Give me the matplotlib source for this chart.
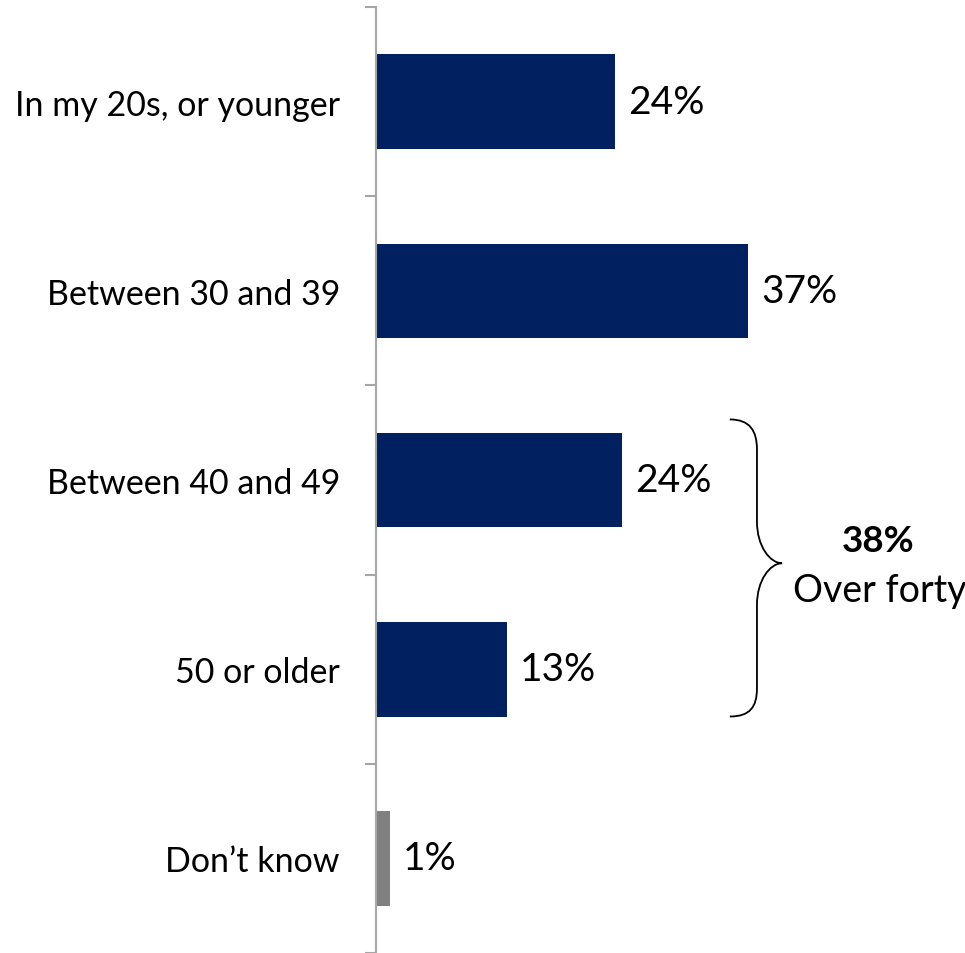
import matplotlib
matplotlib.use("Agg")
import matplotlib.pyplot as plt
from matplotlib.path import Path
from matplotlib.patches import PathPatch

plt.rcParams['font.family'] = ['Lato', 'DejaVu Sans']

categories = ["In my 20s, or younger", "Between 30 and 39", "Between 40 and 49",
              "50 or older", "Don\u2019t know"]
values = [23.8, 37.0, 24.5, 13.0, 1.4]
value_labels = ["24%", "37%", "24%", "13%", "1%"]
bar_colors = ["#002060", "#002060", "#002060", "#002060", "#808080"]
group_total = "38%"
group_label = "Over forty"

W, H = 965, 954
fig = plt.figure(figsize=(W / 100, H / 100), dpi=100)
ax_left, ax_right = 376 / W, 959 / W
ax_top, ax_bottom = 1 - 8 / H, 0.0
ax = fig.add_axes([ax_left, ax_bottom, ax_right - ax_left, ax_top - ax_bottom])

y = list(range(len(categories)))
ax.barh(y, values, height=0.5, color=bar_colors, zorder=2)
ax.set_xlim(0, 58)
ax.set_ylim(len(categories) - 0.5, -0.5)

for s in ['top', 'right', 'bottom']:
    ax.spines[s].set_visible(False)
ax.spines['left'].set_color('#A6A6A6')
ax.spines['left'].set_linewidth(1.5)
ax.set_xticks([])

# ticks at category boundaries
ax.set_yticks([i - 0.5 for i in range(len(categories) + 1)], minor=False)
ax.set_yticklabels([])
ax.tick_params(axis='y', which='major', length=8, width=1.5, color='#A6A6A6', direction='out')
ax.set_yticks(y, minor=True)
ax.set_yticklabels(categories, minor=True)
ax.tick_params(axis='y', which='minor', length=0, pad=26, labelsize=24.5, labelcolor='black')

for yi, v, lab in zip(y, values, value_labels):
    ax.text(v + 1.3, yi, lab, va='center', ha='left', fontsize=28, color='black')

# brace
verts = [(35.2, 1.68), (37.2, 1.68), (37.9, 1.74), (37.9, 1.84),
         (37.9, 2.22),
         (37.9, 2.35), (39.2, 2.44), (40.4, 2.44),
         (39.2, 2.44), (37.9, 2.53), (37.9, 2.66),
         (37.9, 3.10),
         (37.9, 3.20), (37.2, 3.25), (35.2, 3.25)]
codes = [Path.MOVETO, Path.CURVE4, Path.CURVE4, Path.CURVE4,
         Path.LINETO,
         Path.CURVE4, Path.CURVE4, Path.CURVE4,
         Path.CURVE4, Path.CURVE4, Path.CURVE4,
         Path.LINETO,
         Path.CURVE4, Path.CURVE4, Path.CURVE4]
ax.add_patch(PathPatch(Path(verts, codes), fill=False, edgecolor='black', lw=1.3,
                       clip_on=False))

ax.text(50.0, 2.375, group_total, ha='center', va='baseline', fontsize=26.5,
        fontweight='bold', color='black', clip_on=False)
ax.text(50.1, 2.64, group_label, ha='center', va='baseline', fontsize=27,
        color='black', clip_on=False)

fig.savefig("out.png", dpi=100)
